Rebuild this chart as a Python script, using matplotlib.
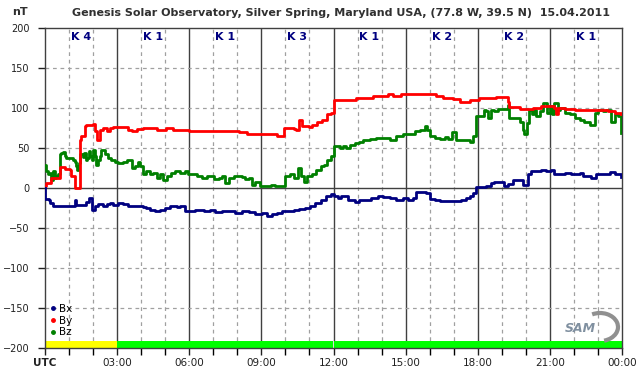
"""
plot.py — Magnetometer chart (Bx, By, Bz) for one UTC day.
"""

import matplotlib
matplotlib.use("Agg")  # no display
import matplotlib.pyplot as plt
from matplotlib.lines import Line2D
from matplotlib.patches import Arc
import numpy as np


# ── Data (hours UTC, nT) ─────────────────────────────────────────────────

bx_t = [0.0, 0.01, 0.17, 0.19, 0.33, 1.17, 1.24, 1.31, 1.65, 1.72, 1.83, 1.93, 1.97, 2.07,
        2.21, 2.42, 2.56, 2.69, 2.83, 3.04, 3.25, 3.46, 3.67, 3.94, 4.08, 4.22, 4.36, 4.57,
        4.78, 4.99, 5.19, 5.47, 5.61, 5.82, 6.11, 6.25, 6.6, 6.88, 7.08, 7.36, 7.92, 8.19,
        8.47, 8.75, 9.03, 9.24, 9.44, 9.65, 9.86, 10.35, 10.56, 10.83, 11.04, 11.25, 11.46,
        11.67, 11.88, 12.04, 12.18, 12.32, 12.6, 12.88, 13.08, 13.29, 13.57, 13.85, 14.06,
        14.33, 14.61, 14.89, 15.1, 15.31, 15.44, 15.86, 16.0, 16.21, 16.42, 17.32, 17.53,
        17.67, 17.81, 17.94, 18.14, 18.35, 18.56, 18.69, 19.11, 19.25, 19.46, 19.88, 20.08,
        20.22, 20.64, 20.85, 21.06, 21.19, 21.61, 21.89, 22.24, 22.38, 22.72, 22.93, 23.49,
        23.69, 23.83, 23.97]
bx_v = [0, -14, -15, -19, -22, -22, -15, -21, -21, -17, -12.5, -12.5, -27, -23,
        -20, -22, -20, -19, -21, -19, -20, -22, -23, -22, -24, -25, -27, -29,
        -27, -25, -23, -24, -23, -29, -29, -27, -29, -27, -30, -29, -31, -29,
        -30, -32, -31, -35, -32, -31, -29, -28, -26, -25, -23, -19, -15,
        -10, -8, -10, -12.5, -10, -15, -18, -15, -15, -12.5, -10, -11,
        -12.5, -15, -12.5, -15, -12.5, -5, -6, -14, -15, -16, -15, -12.5,
        -10, -6, 1, 1, 3, 6, 8, 2, 5, 10, 4, 17,
        21, 22, 21, 22, 17, 19, 17, 19, 15, 12.5, 17, 20,
        17, 18, 14]

by_t = [0.0, 0.06, 0.26, 0.61, 0.82, 1.03, 1.1, 1.24, 1.44, 1.51, 1.68, 1.72, 2.0, 2.07,
        2.17, 2.28, 2.42, 2.56, 2.69, 2.83, 3.46, 3.6, 3.81, 4.08, 4.64, 5.03, 5.33, 5.61,
        6.0, 7.64, 8.06, 8.4, 9.31, 9.65, 9.94, 10.35, 10.42, 10.56, 10.69, 10.97, 11.11,
        11.32, 11.53, 11.74, 11.88, 12.0, 12.04, 12.67, 12.94, 13.36, 13.64, 14.26, 14.47,
        14.82, 15.31, 16.0, 16.28, 16.56, 16.97, 17.25, 17.67, 18.06, 18.56, 18.76, 19.25,
        19.32, 19.74, 20.29, 20.64, 21.19, 21.26, 21.33, 21.61, 22.03, 23.14, 23.42, 23.69,
        23.97]
by_v = [2, 6, 12.5, 26, 24, 22, 15, 0, 60, 65, 77, 79, 80, 71,
        60, 73, 75, 71, 75, 76, 73, 71, 74, 75, 73, 75, 72, 72,
        71, 71, 70, 68, 67, 65, 75, 74, 73, 85, 77, 76, 79,
        83, 85, 92, 94, 107, 110, 110, 112, 112.5, 115, 117, 115,
        117, 118, 117, 115, 112.5, 111, 108, 110, 112, 112.5, 114, 108,
        101, 99, 100, 102, 100, 93, 100, 99, 98, 97, 96, 94,
        92]

bz_t = [0.0, 0.06, 0.13, 0.19, 0.26, 0.33, 0.4, 0.47, 0.54, 0.61, 0.68, 0.75, 0.82, 0.89,
        1.03, 1.17, 1.24, 1.31, 1.35, 1.42, 1.47, 1.56, 1.61, 1.69, 1.75, 1.83, 1.89, 1.96,
        2.0, 2.07, 2.14, 2.21, 2.28, 2.35, 2.49, 2.63, 2.76, 2.9, 3.04, 3.25, 3.39, 3.6,
        3.74, 3.88, 3.94, 4.08, 4.22, 4.36, 4.5, 4.64, 4.78, 4.92, 5.06, 5.26, 5.4, 5.61,
        5.82, 5.96, 6.11, 6.32, 6.53, 6.74, 7.01, 7.22, 7.36, 7.5, 7.64, 7.85, 8.19, 8.33,
        8.47, 8.61, 8.75, 8.96, 9.17, 9.38, 9.58, 9.86, 10.0, 10.21, 10.35, 10.51, 10.63,
        10.76, 10.9, 11.11, 11.28, 11.46, 11.6, 11.74, 11.88, 12.01, 12.25, 12.39, 12.53,
        12.67, 12.88, 13.08, 13.22, 13.5, 13.78, 14.33, 14.61, 14.89, 15.38, 15.58, 15.79,
        15.89, 16.0, 16.21, 16.42, 16.63, 16.76, 16.94, 17.11, 17.53, 17.67, 17.81, 17.92,
        18.28, 18.35, 18.44, 18.56, 18.69, 18.83, 19.25, 19.32, 19.74, 19.88, 19.94, 20.06,
        20.15, 20.25, 20.33, 20.43, 20.57, 20.71, 20.89, 20.99, 21.08, 21.19, 21.33, 21.44,
        21.61, 21.82, 22.03, 22.24, 22.44, 22.65, 22.86, 23.0, 23.21, 23.35, 23.56, 23.69,
        23.83, 23.97]
bz_v = [29, 21, 17, 19, 10, 21, 12.5, 15, 17, 42, 44, 45, 40, 37.5,
        37, 35, 33, 27, 23, 31, 42, 39, 44, 35, 37.5, 46, 40, 35,
        48, 40, 29, 35, 40, 47, 42, 37.5, 35, 33, 31, 33, 35, 25,
        27, 33, 27, 17, 21, 17, 19, 12.5, 17, 10, 15, 19, 21, 19,
        21, 17, 17, 15, 12.5, 15, 11, 12.5, 15, 6, 12.5, 15, 14, 11,
        12, 4, 7, 3, 2, 4, 3, 2, 15, 17, 12.5, 25, 15,
        8, 15, 17, 23, 27, 29, 35, 40, 52, 50, 53, 50,
        54, 56, 58, 60, 61, 62.5, 60, 65, 67, 71, 73, 78,
        73, 65, 62, 61, 64, 61, 70, 60, 60, 58, 65, 90,
        98, 96, 87.5, 98, 96, 99, 104, 87.5, 83, 73, 67, 81,
        98, 92, 98, 90, 96, 106, 94, 102, 92, 106, 98, 100,
        94, 92, 87.5, 85, 83, 79, 94, 98, 96, 98, 83, 92,
        90, 69]

k_index = [4, 1, 1, 3, 1, 2, 2, 1]
hour_labels = ["UTC", "03:00", "06:00", "09:00", "12:00", "15:00", "18:00", "21:00", "00:00"]


# ── Figure ───────────────────────────────────────────────────────────────

W, H = 642, 376
fig = plt.figure(figsize=(W / 100, H / 100), dpi=100)
ax = fig.add_axes([45 / W, (H - 348) / H, 577 / W, 320 / H])
plt.rcParams["font.family"] = "DejaVu Sans"

grid_c = "#a0a0a0"
dark = "#404040"

# dashed grid (hourly / every 50 nT), solid every 3 h and at zero
for h in range(1, 24):
    if h % 3:
        ax.axvline(h, color=grid_c, lw=0.9, ls=(0, (3, 3)), zorder=1)
    else:
        ax.axvline(h, color=dark, lw=1.0, zorder=1)
for y in (-150, -100, -50, 50, 100, 150):
    ax.axhline(y, color=grid_c, lw=0.9, ls=(0, (3, 3)), zorder=1)
ax.axhline(0, color=dark, lw=1.0, zorder=1)

# K index colour band along the bottom
for i, k in enumerate(k_index):
    ax.axvspan(3 * i, 3 * i + 3, ymin=0, ymax=9 / 400,
               color="#ffff00" if k >= 4 else "#00ff00", lw=0, zorder=2)
    ax.text(3 * i + 1.5, 189, f"K {k}", ha="center", va="center",
            fontsize=8, fontweight="bold", color="#000080", zorder=5)

# series
ax.plot(bz_t, bz_v, drawstyle="steps-post", color="#008000", lw=2.0, zorder=3)
ax.plot(by_t, by_v, drawstyle="steps-post", color="#ff0000", lw=2.0, zorder=3)
ax.plot(bx_t, bx_v, drawstyle="steps-post", color="#000080", lw=2.0, zorder=4)

ax.set_xlim(0, 24)
ax.set_ylim(-200, 200)
ax.set_yticks(np.arange(-200, 201, 50))
ax.set_xticks(np.arange(0, 25, 3))
ax.set_xticks(np.arange(0, 25, 1), minor=True)
ax.set_xticklabels(hour_labels)
ax.get_xticklabels()[0].set_fontweight("bold")
ax.tick_params(axis="both", labelsize=7.5, colors="#202020", length=5, width=1, pad=2)
ax.tick_params(axis="x", which="minor", length=5, width=1)
ax.tick_params(axis="y", labelsize=7, pad=6)
for s in ax.spines.values():
    s.set_color(dark)
    s.set_linewidth(1.0)

# legend
handles = [Line2D([], [], ls="none", marker="o", ms=2.5, color=c)
           for c in ("#000080", "#ff0000", "#008000")]
ax.legend(handles, ["Bx", "By", "Bz"], loc="upper left", bbox_to_anchor=(-0.005, 0.16),
          frameon=False, fontsize=7.5, handlelength=0.6, handletextpad=0.3,
          labelspacing=0.15, borderpad=0.2)

# titles
fig.text(341 / W, 1 - 13 / H, "Genesis Solar Observatory, Silver Spring, Maryland USA, "
         "(77.8 W, 39.5 N)  15.04.2011", ha="center", va="center",
         fontsize=8, fontweight="bold", color="#303030")
fig.text(20 / W, 1 - 12 / H, "nT", ha="center", va="center",
         fontsize=8, fontweight="bold", color="#303030")

# SAM logo
fig.text(580 / W, 1 - 329 / H, "SAM", ha="center", va="center", fontsize=9,
         fontstyle="italic", fontweight="bold", color="#8090a0")
logo = Arc((600 / W, 1 - 327 / H), 36 / W, 28 / H, theta1=-80, theta2=110,
           transform=fig.transFigure, color="#909090", lw=3)
fig.add_artist(logo)

plt.savefig("out.png", dpi=100)
plt.close(fig)
